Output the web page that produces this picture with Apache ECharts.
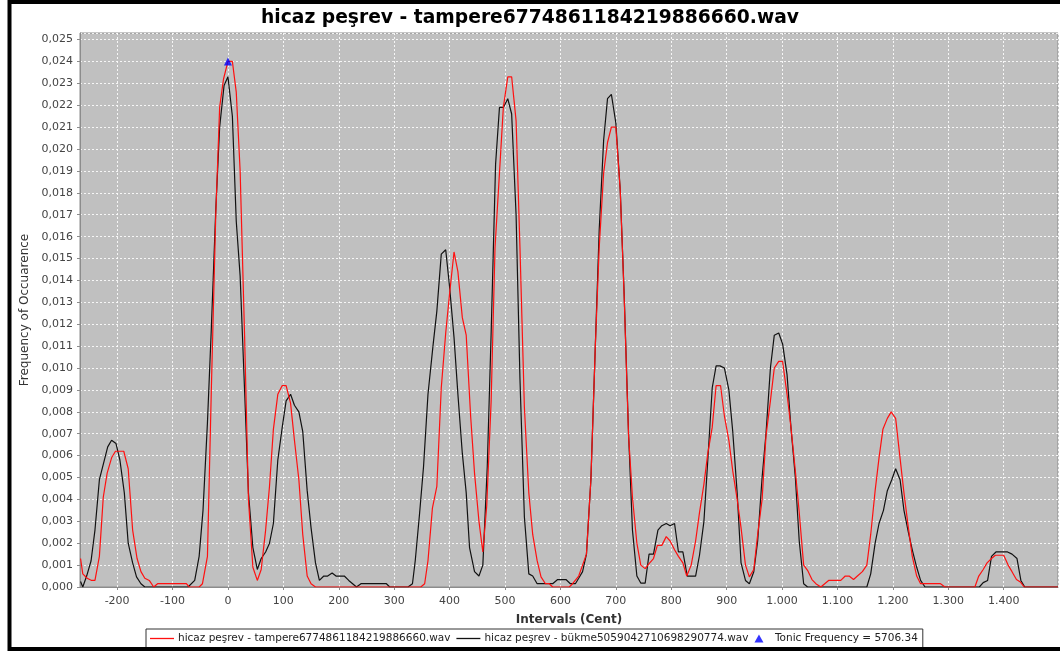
<!DOCTYPE html>
<html>
<head>
<meta charset="utf-8">
<script src="https://cdn.jsdelivr.net/npm/echarts@6/dist/echarts.min.js"></script>
<style>
  html, body { margin: 0; padding: 0; background: #ffffff; }
  #chart { width: 1060px; height: 652px; }
</style>
</head>
<body>
<div id="chart"></div>
<script>
// Pitch histograms (interval in cents relative to the tonic, frequency of occurrence)
const tampereCents = [
  -266, -262, -254, -246, -240, -232, -225, -218, -210, -203, -188, -180, -172, -164, -157, -150,
  -142, -134, -127, -75, -70, -52, -46, -37, -30, -22, -15, -8, 0, 8, 15, 22,
  30, 37, 45, 53, 60, 68, 75, 82, 90, 98, 105, 113, 120, 128, 135, 143,
  150, 158, 348, 355, 361, 369, 377, 385, 393, 400, 408, 415, 423, 430, 438, 445,
  453, 460, 467, 475, 482, 490, 497, 505, 512, 520, 527, 535, 543, 550, 558, 565,
  573, 580, 586, 616, 622, 633, 640, 647, 655, 663, 670, 678, 685, 692, 700, 708,
  715, 723, 730, 738, 745, 753, 760, 768, 775, 783, 791, 798, 806, 813, 821, 828,
  836, 844, 851, 859, 866, 874, 881, 889, 896, 904, 911, 919, 926, 934, 941, 949,
  956, 964, 971, 979, 986, 994, 1001, 1009, 1016, 1024, 1031, 1039, 1046, 1054, 1061, 1070,
  1084, 1106, 1114, 1121, 1129, 1136, 1145, 1153, 1160, 1168, 1175, 1182, 1190, 1197, 1205, 1212,
  1220, 1228, 1235, 1243, 1250, 1286, 1294, 1348, 1355, 1363, 1370, 1378, 1385, 1400, 1408, 1415,
  1423, 1430, 1437, 1498
];
const tampereFreq = [
  0.0013, 0.0006, 0.0004, 0.0003, 0.0003, 0.0014, 0.0041, 0.0052, 0.0059, 0.0062, 0.0062, 0.0054, 0.0026, 0.0013, 0.0007, 0.0004,
  0.0003, 0, 0.00015, 0.00015, 0, 0, 0.00015, 0.0014, 0.009, 0.017, 0.0219, 0.0232, 0.024, 0.024, 0.0226, 0.019,
  0.0115, 0.004, 0.0009, 0.0003, 0.0008, 0.0026, 0.0046, 0.0072, 0.0088, 0.0092, 0.0092, 0.0084, 0.0067, 0.0049, 0.0024, 0.0005,
  0.00015, 0, 0, 0.00015, 0.0012, 0.0036, 0.0046, 0.0091, 0.0116, 0.0134, 0.0153, 0.0144, 0.0123, 0.0115, 0.0078, 0.0052,
  0.003, 0.0016, 0.0037, 0.0085, 0.0155, 0.0189, 0.0219, 0.0233, 0.0233, 0.0213, 0.0155, 0.0082, 0.0043, 0.0024, 0.0012, 0.00046,
  0.00015, 0.00015, 0, 0, 0.00015, 0.0005, 0.001, 0.0015, 0.0049, 0.011, 0.0155, 0.0189, 0.0203, 0.021, 0.021, 0.0181,
  0.0133, 0.0069, 0.0041, 0.002, 0.001, 0.00084, 0.00107, 0.0013, 0.0019, 0.0019, 0.0023, 0.0021, 0.0017, 0.0014, 0.0011, 0.0005,
  0.001, 0.0021, 0.0034, 0.0047, 0.0061, 0.0073, 0.0092, 0.0092, 0.0078, 0.0067, 0.0053, 0.004, 0.0027, 0.001, 0.00046, 0.0008,
  0.0024, 0.004, 0.0069, 0.0085, 0.01, 0.0103, 0.0103, 0.0088, 0.0073, 0.0053, 0.0034, 0.001, 0.00076, 0.00034, 0.00015, 0,
  0.0003, 0.0003, 0.0005, 0.0005, 0.00034, 0.0005, 0.0007, 0.001, 0.0024, 0.0044, 0.0059, 0.0072, 0.0077, 0.008, 0.0077, 0.0061,
  0.0043, 0.0027, 0.0014, 0.0005, 0.00015, 0.00015, 0, 0, 0.0005, 0.0008, 0.0011, 0.0013, 0.00145, 0.00145, 0.001, 0.0007,
  0.00034, 0.00023, 0, 0
];

const bukmeCents = [
  -266, -262, -255, -247, -240, -232, -225, -217, -210, -202, -195, -187, -180, -172, -165, -157,
  -150, -72, -60, -52, -45, -37, -30, -22, -15, -7, 0, 8, 15, 22, 30, 37,
  45, 53, 60, 68, 75, 82, 90, 98, 105, 113, 120, 128, 135, 143, 150, 158,
  165, 173, 180, 188, 195, 210, 218, 225, 232, 240, 286, 292, 325, 333, 338, 346,
  353, 361, 370, 377, 385, 393, 400, 408, 415, 423, 430, 436, 445, 453, 460, 468,
  475, 483, 490, 497, 505, 512, 520, 527, 535, 543, 550, 558, 586, 595, 610, 618,
  627, 633, 640, 647, 655, 663, 670, 678, 685, 692, 700, 708, 715, 723, 730, 738,
  745, 753, 760, 768, 776, 783, 791, 798, 806, 813, 821, 829, 844, 851, 859, 866,
  874, 881, 888, 896, 904, 911, 919, 926, 934, 941, 949, 956, 964, 971, 979, 986,
  994, 1001, 1009, 1016, 1024, 1031, 1039, 1046, 1153, 1160, 1168, 1175, 1183, 1190, 1198, 1205,
  1213, 1220, 1228, 1235, 1243, 1250, 1258, 1356, 1363, 1371, 1378, 1386, 1407, 1415, 1424, 1431,
  1438, 1498
];
const bukmeFreq = [
  0.00025, 0, 0.0005, 0.0012, 0.0026, 0.0049, 0.0056, 0.0064, 0.0067, 0.00655, 0.0058, 0.0043, 0.002, 0.0011, 0.00046, 0.00015,
  0, 0, 0.0003, 0.0014, 0.0035, 0.0075, 0.0118, 0.0172, 0.021, 0.0229, 0.0233, 0.0215, 0.0167, 0.0142, 0.009, 0.0043,
  0.0018, 0.0008, 0.0013, 0.0016, 0.002, 0.0029, 0.0058, 0.0073, 0.0085, 0.0088, 0.0083, 0.008, 0.0071, 0.0044, 0.0027, 0.0011,
  0.0003, 0.0005, 0.0005, 0.00064, 0.0005, 0.0005, 0.0003, 0.00015, 0, 0.00015, 0.00015, 0, 0, 0.00015, 0.0012, 0.0034,
  0.0055, 0.0088, 0.011, 0.0126, 0.0152, 0.0154, 0.0137, 0.0114, 0.0088, 0.0061, 0.0043, 0.0018, 0.0007, 0.0005, 0.001, 0.0055,
  0.0116, 0.0193, 0.0219, 0.0219, 0.0223, 0.0216, 0.017, 0.0095, 0.0032, 0.0006, 0.0005, 0.00015, 0.00015, 0.00034, 0.00034, 0.00015,
  0.00015, 0.0004, 0.0007, 0.0015, 0.0049, 0.011, 0.0163, 0.0204, 0.0223, 0.0225, 0.0212, 0.0181, 0.0134, 0.007, 0.0026, 0.0005,
  0.00018, 0.00018, 0.0015, 0.0015, 0.0026, 0.0028, 0.0029, 0.0028, 0.0029, 0.0016, 0.0016, 0.0005, 0.0005, 0.00145, 0.003, 0.0058,
  0.0091, 0.0101, 0.0101, 0.01, 0.009, 0.0071, 0.0043, 0.0011, 0.0003, 0.00015, 0.0007, 0.0021, 0.005, 0.007, 0.01, 0.0115,
  0.0116, 0.0111, 0.0097, 0.0073, 0.005, 0.0021, 0.00015, 0, 0, 0.0006, 0.002, 0.0029, 0.0035, 0.0044, 0.0049, 0.0054,
  0.0049, 0.0035, 0.0025, 0.0017, 0.0009, 0.0003, 0, 0, 0.0002, 0.0003, 0.0014, 0.0016, 0.0016, 0.0015, 0.0013, 0.0003,
  0, 0
];

// Tonic marker (cents, frequency)
const tonicPoint = [0, 0.024];

const seriesNames = [
  'hicaz peşrev - tampere6774861184219886660.wav',
  'hicaz peşrev - bükme5059042710698290774.wav',
  'Tonic Frequency = 5706.34'
];
const chartTitle = 'hicaz peşrev - tampere6774861184219886660.wav';
const xAxisName = 'Intervals (Cent)';
const yAxisName = 'Frequency of Occuarence';

function pairs(xs, ys) {
  return xs.map((x, i) => [x, ys[i]]);
}

// Thousands separator '.', decimal separator ',' (Turkish locale)
function centLabel(v) {
  const a = Math.abs(Math.round(v));
  let s = String(a);
  if (a >= 1000) s = s.slice(0, s.length - 3) + '.' + s.slice(-3);
  return (v < 0 ? '-' : '') + s;
}
function freqLabel(v) {
  return v.toFixed(3).replace('.', ',');
}

const font = 'DejaVu Sans, Verdana, sans-serif';
const lineIcon = 'path://M0,0H24V1.3H0Z';
const triangleIcon = 'path://M4.5,0L9,8H0Z';
const chart = echarts.init(document.getElementById('chart'), null, { renderer: 'canvas' });

chart.setOption({
  animation: false,
  backgroundColor: '#ffffff',
  title: {
    text: chartTitle,
    left: 'center',
    top: 4,
    textStyle: { fontFamily: font, fontSize: 18.7, fontWeight: 'bold', color: '#000' }
  },
  graphic: [{
    type: 'rect',
    shape: { x: 9.5, y: 2, width: 1060, height: 647 },
    style: { fill: null, stroke: '#000', lineWidth: 4 },
    silent: true,
    z: 100
  }],
  legend: {
    data: [
      { name: seriesNames[0], icon: lineIcon },
      { name: seriesNames[1], icon: lineIcon },
      { name: seriesNames[2], icon: triangleIcon }
    ],
    left: 146,
    top: 629,
    orient: 'horizontal',
    borderColor: '#333',
    borderWidth: 1,
    borderRadius: 0,
    padding: [4, 5, 4, 4],
    itemGap: 6,
    itemWidth: 24,
    itemHeight: 8,
    symbolKeepAspect: true,
    textStyle: { fontFamily: font, fontSize: 10.5, color: '#222', padding: [0, 0, 0, -1] }
  },
  grid: {
    left: 80, right: 2, top: 33, bottom: 65,
    show: true,
    backgroundColor: '#c0c0c0',
    borderColor: '#8c8c8c',
    borderWidth: 1
  },
  xAxis: {
    type: 'value',
    min: -267,
    max: 1498,
    splitNumber: 18,
    name: xAxisName,
    nameLocation: 'middle',
    nameGap: 27,
    nameTextStyle: { fontFamily: font, fontSize: 12, fontWeight: 'bold', color: '#333' },
    axisLine: { show: true, onZero: false, lineStyle: { color: '#8c8c8c', width: 1 } },
    axisTick: { show: true, length: 3, lineStyle: { color: '#8c8c8c' } },
    axisLabel: {
      fontFamily: font, fontSize: 11, color: '#444', margin: 9,
      showMinLabel: false, showMaxLabel: false,
      formatter: centLabel
    },
    splitLine: { show: true, lineStyle: { color: '#ffffff', width: 1, type: [2, 2], opacity: 0.85 } }
  },
  yAxis: {
    type: 'value',
    min: 0,
    max: 0.0253,
    interval: 0.001,
    name: yAxisName,
    nameLocation: 'middle',
    nameGap: 48,
    nameTextStyle: { fontFamily: font, fontSize: 12, color: '#333' },
    axisLine: { show: true, onZero: false, lineStyle: { color: '#8c8c8c', width: 1 } },
    axisTick: { show: true, length: 3, lineStyle: { color: '#8c8c8c' } },
    axisLabel: {
      fontFamily: font, fontSize: 11, color: '#444', margin: 7,
      showMaxLabel: false,
      formatter: freqLabel
    },
    splitLine: { show: true, lineStyle: { color: '#ffffff', width: 1, type: [2, 2], opacity: 0.85 } }
  },
  series: [
    {
      name: seriesNames[1],
      type: 'line',
      data: pairs(bukmeCents, bukmeFreq),
      symbol: 'none',
      showSymbol: false,
      lineStyle: { color: '#111111', width: 1.2 },
      itemStyle: { color: '#111111' },
      z: 2
    },
    {
      name: seriesNames[0],
      type: 'line',
      data: pairs(tampereCents, tampereFreq),
      symbol: 'none',
      showSymbol: false,
      lineStyle: { color: '#ff1010', width: 1.2 },
      itemStyle: { color: '#ff1010' },
      z: 3
    },
    {
      name: seriesNames[2],
      type: 'scatter',
      data: [tonicPoint],
      symbol: 'triangle',
      symbolSize: 8,
      itemStyle: { color: '#0000ff' },
      z: 4
    }
  ]
});
</script>
</body>
</html>
